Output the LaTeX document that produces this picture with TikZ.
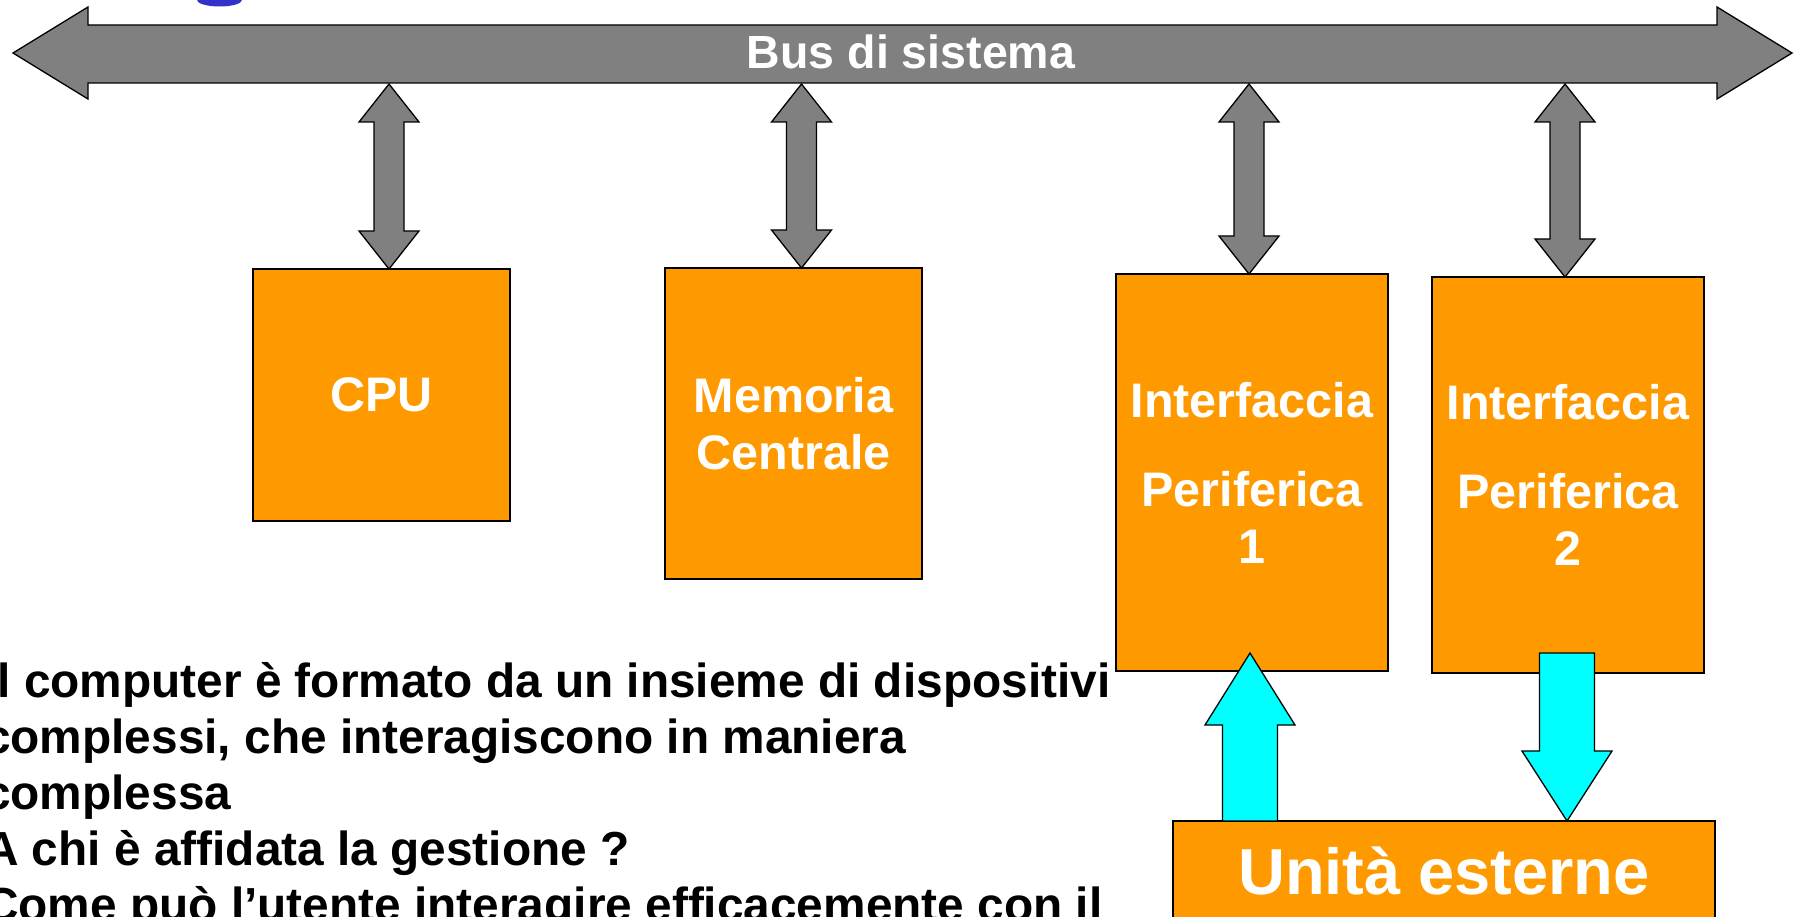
\documentclass[tikz,border=0pt]{standalone}
\usepackage{fontspec}
\setmainfont{Liberation Sans}
\usetikzlibrary{calc}
\definecolor{boxorange}{HTML}{FF9900}
\definecolor{busgray}{HTML}{808080}
\definecolor{flowcyan}{HTML}{00FFFF}
\definecolor{titleblue}{HTML}{3333CC}
\newcommand\busarrow[2]{%
  \path[grayarr] (#1) -- ($(#1)+(30,38)$) -- ($(#1)+(15,38)$) -- ($(#2)+(15,-38)$) -- ($(#2)+(30,-38)$) -- (#2) -- ($(#2)+(-30,-38)$) -- ($(#2)+(-15,-38)$) -- ($(#1)+(-15,38)$) -- ($(#1)+(-30,38)$) -- cycle;}
\newcommand\cyanup[2]{%
  \path[cyanarr] (#1) -- ($(#1)+(45,72)$) -- ($(#1)+(27.5,72)$) -- ($(#2)+(27.5,0)$) -- ($(#2)+(-27.5,0)$) -- ($(#1)+(-27.5,72)$) -- ($(#1)+(-45,72)$) -- cycle;}
\newcommand\cyandown[2]{%
  \path[cyanarr] ($(#1)+(-27.5,0)$) -- ($(#1)+(27.5,0)$) -- ($(#2)+(27.5,-70)$) -- ($(#2)+(45,-70)$) -- (#2) -- ($(#2)+(-45,-70)$) -- ($(#2)+(-27.5,-70)$) -- cycle;}
\begin{document}
\begin{tikzpicture}[x=1pt,y=-1pt,
  unitbox/.style={draw=black, line width=1.3pt, fill=boxorange, text=white,
    font=\fontsize{48.5}{57}\selectfont\bfseries, align=center, inner sep=0pt,
    outer sep=0pt, anchor=north west},
  grayarr/.style={draw=black, line width=1.3pt, fill=busgray, line join=miter},
  cyanarr/.style={draw=black, line width=1.3pt, fill=flowcyan, line join=miter},
  bodytext/.style={anchor=base west, inner sep=0pt, font=\fontsize{47.8}{56.2}\selectfont\bfseries}]
\useasboundingbox (0,0) rectangle (1798,917);
\fill[white] (0,0) rectangle (1798,917);
% title remnant
\fill[titleblue] (219.5,0) ellipse [x radius=22.5pt, y radius=6.5pt];
% bus
\path[grayarr] (13,53) -- (88,7) -- (88,25) -- (1717,25) -- (1717,7) -- (1792,53)
  -- (1717,99) -- (1717,83) -- (88,83) -- (88,99) -- cycle;
\node[font=\fontsize{46.5}{50}\selectfont\bfseries, text=white, inner sep=0pt] (bus) at (911,52) {Bus di sistema};
\coordinate (busbot) at (0,84);
% units
\node[unitbox, minimum width=257pt, minimum height=252pt] (cpu) at (253,269) {CPU};
\node[unitbox, minimum width=257pt, minimum height=311pt] (mem) at (665,268) {Memoria\\Centrale};
\node[unitbox, minimum width=272pt, minimum height=397pt] (int1) at (1116,274) {Interfaccia\\[32pt]Periferica\\1};
\node[unitbox, minimum width=272pt, minimum height=396pt] (int2) at (1432,277) {Interfaccia\\[32pt]Periferica\\2};
\node[unitbox, minimum width=542pt, minimum height=100pt, font=\fontsize{65}{75}\selectfont\bfseries] (ext) at (1173,821) {Unità esterne};
% bus connections
\coordinate (cpuin) at ($(cpu.north)+(7.5,0)$);
\coordinate (cpubus) at (cpuin |- busbot);
\busarrow{cpubus}{cpuin}
\coordinate (memin) at ($(mem.north)+(8,0)$);
\coordinate (membus) at (memin |- busbot);
\busarrow{membus}{memin}
\coordinate (int1in) at ($(int1.north)+(-3,0)$);
\coordinate (int1bus) at (int1in |- busbot);
\busarrow{int1bus}{int1in}
\coordinate (int2in) at ($(int2.north)+(-3,0)$);
\coordinate (int2bus) at (int2in |- busbot);
\busarrow{int2bus}{int2in}
% external unit connections
\coordinate (extout) at ($(ext.north west)+(77,0)$);
\coordinate (int1tip) at ($(extout |- int1.south)+(0,-18)$);
\cyanup{int1tip}{extout}
\coordinate (extin) at ($(ext.north west)+(394,0)$);
\coordinate (int2out) at ($(extin |- int2.south)+(0,-20)$);
\cyandown{int2out}{extin}
% body text
\node[bodytext] (txt) at (-16,697) {\vtop{\hbox{Il computer è formato da un insieme di dispositivi}\hbox{complessi, che interagiscono in maniera}\hbox{complessa}\hbox{A chi è affidata la gestione ?}\hbox{Come può l’utente interagire efficacemente con il}}};
\end{tikzpicture}
\end{document}
